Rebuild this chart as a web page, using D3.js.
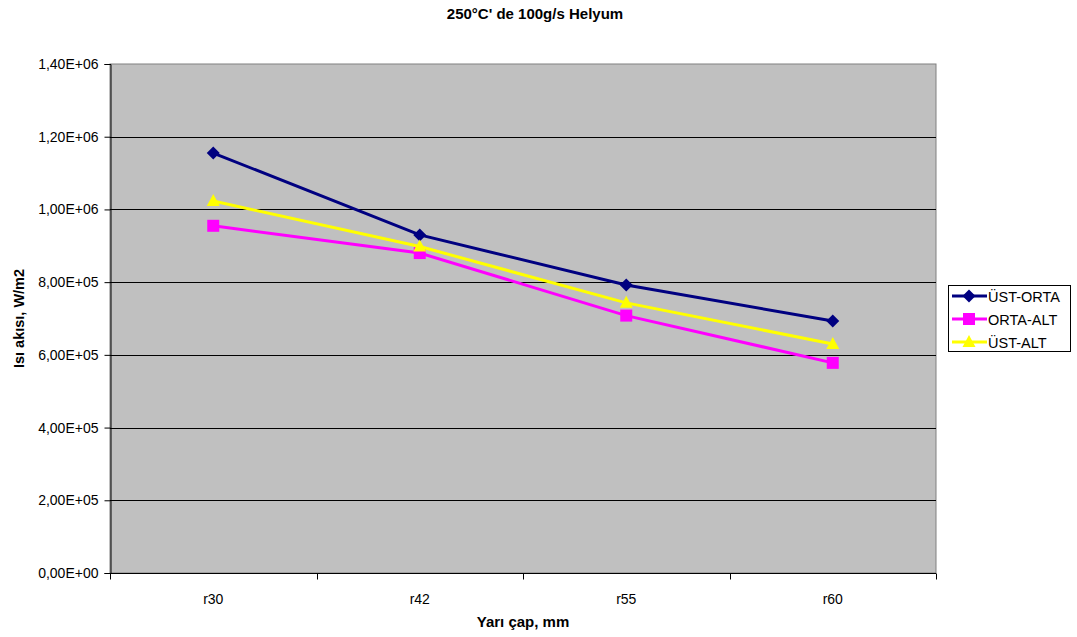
<!DOCTYPE html>
<html>
<head>
<meta charset="utf-8">
<script src="https://cdn.jsdelivr.net/npm/d3@7"></script>
<style>
  body { margin: 0; background: #fff; }
  svg { display: block; font-family: "Liberation Sans", Arial, sans-serif; }
</style>
</head>
<body>
<svg id="chart" width="1077" height="637"></svg>
<script>
// Heat flux at four radii for three thermocouple pairs
const categories = ["r30", "r42", "r55", "r60"];
const ustOrta = [1155000, 930000, 792000, 693000];
const ortaAlt = [955000, 880000, 708000, 578000];
const ustAlt  = [1023000, 898000, 743000, 630000];
const yTicks = [0, 200000, 400000, 600000, 800000, 1000000, 1200000, 1400000];
const yTickLabels = ["0,00E+00", "2,00E+05", "4,00E+05", "6,00E+05", "8,00E+05", "1,00E+06", "1,20E+06", "1,40E+06"];

const series = [
  { name: "ÜST-ORTA", values: ustOrta, color: "#000080", marker: "diamond" },
  { name: "ORTA-ALT", values: ortaAlt, color: "#FF00FF", marker: "square" },
  { name: "ÜST-ALT",  values: ustAlt,  color: "#FFFF00", marker: "triangle" }
];

const svg = d3.select("#chart");
const plot = { left: 110, top: 64, right: 936, bottom: 573 };

const x = d3.scaleBand().domain(categories).range([plot.left, plot.right]);
const y = d3.scaleLinear().domain([0, 1400000]).range([plot.bottom, plot.top]);

// Title
svg.append("text")
  .attr("x", 535).attr("y", 19)
  .attr("text-anchor", "middle")
  .attr("font-size", 15).attr("font-weight", "bold")
  .text("250°C' de 100g/s Helyum");

// Plot background
svg.append("rect")
  .attr("x", plot.left).attr("y", plot.top)
  .attr("width", plot.right - plot.left).attr("height", plot.bottom - plot.top)
  .attr("fill", "#C0C0C0").attr("stroke", "#808080").attr("stroke-width", 1);

// Gridlines
svg.append("g").selectAll("line")
  .data(yTicks.filter(d => d > 0 && d < 1400000))
  .join("line")
  .attr("x1", plot.left).attr("x2", plot.right)
  .attr("y1", d => Math.round(y(d)) + 0.5).attr("y2", d => Math.round(y(d)) + 0.5)
  .attr("stroke", "#000").attr("stroke-width", 1);

// Y axis
const yAxis = d3.axisLeft(y).tickValues(yTicks)
  .tickFormat((d, i) => yTickLabels[i]).tickSize(6).tickPadding(6);
const gy = svg.append("g").attr("transform", `translate(${plot.left + 0.5},0)`).call(yAxis);
gy.select(".domain").attr("stroke", "#000");
gy.selectAll(".tick line").attr("stroke", "#000");
gy.selectAll(".tick text").attr("font-size", 14).attr("fill", "#000")
  .attr("font-family", "Liberation Sans, Arial, sans-serif");

// X axis: ticks on category boundaries
const gx = svg.append("g").attr("transform", `translate(0,${plot.bottom + 0.5})`);
gx.append("line")
  .attr("x1", plot.left).attr("x2", plot.right)
  .attr("stroke", "#000");
const bounds = categories.map(c => x(c)).concat([plot.right]);
gx.selectAll("line.tk").data(bounds).join("line").attr("class", "tk")
  .attr("x1", d => Math.round(d) + 0.5).attr("x2", d => Math.round(d) + 0.5)
  .attr("y1", 0).attr("y2", 6).attr("stroke", "#000");
gx.selectAll("text").data(categories).join("text")
  .attr("x", d => x(d) + x.bandwidth() / 2).attr("y", 30)
  .attr("text-anchor", "middle").attr("font-size", 14)
  .text(d => d);

// Axis titles
svg.append("text")
  .attr("x", (plot.left + plot.right) / 2).attr("y", 627)
  .attr("text-anchor", "middle").attr("font-size", 15).attr("font-weight", "bold")
  .text("Yarı çap, mm");
svg.append("text")
  .attr("transform", `translate(24,${(plot.top + plot.bottom) / 2}) rotate(-90)`)
  .attr("text-anchor", "middle").attr("font-size", 14.5).attr("font-weight", "bold")
  .text("Isı akısı, W/m2");

// Marker drawing
function drawMarker(g, type, color, cx, cy) {
  if (type === "diamond") {
    g.append("path").attr("d", `M${cx},${cy - 6.5}L${cx + 6.5},${cy}L${cx},${cy + 6.5}L${cx - 6.5},${cy}Z`)
      .attr("fill", color);
  } else if (type === "square") {
    g.append("rect").attr("x", cx - 6).attr("y", cy - 6).attr("width", 12).attr("height", 12)
      .attr("fill", color);
  } else {
    g.append("path").attr("d", `M${cx},${cy - 7}L${cx + 6.5},${cy + 5}L${cx - 6.5},${cy + 5}Z`)
      .attr("fill", color);
  }
}

// Series lines and markers
const line = d3.line()
  .x((d, i) => x(categories[i]) + x.bandwidth() / 2)
  .y(d => y(d));

series.forEach(s => {
  const g = svg.append("g");
  g.append("path").datum(s.values)
    .attr("d", line).attr("fill", "none")
    .attr("stroke", s.color).attr("stroke-width", 3);
  s.values.forEach((v, i) => {
    drawMarker(g, s.marker, s.color, x(categories[i]) + x.bandwidth() / 2, y(v));
  });
});

// Legend
const legend = svg.append("g");
legend.append("rect")
  .attr("x", 948.5).attr("y", 285.5).attr("width", 122).attr("height", 66)
  .attr("fill", "#fff").attr("stroke", "#000");
series.forEach((s, i) => {
  const ly = 296 + i * 23;
  legend.append("line").attr("x1", 952).attr("x2", 987).attr("y1", ly).attr("y2", ly)
    .attr("stroke", s.color).attr("stroke-width", 3);
  drawMarker(legend, s.marker, s.color, 969, ly);
  legend.append("text").attr("x", 988).attr("y", ly + 5.5)
    .attr("font-size", 14.5).text(s.name);
});
</script>
</body>
</html>
